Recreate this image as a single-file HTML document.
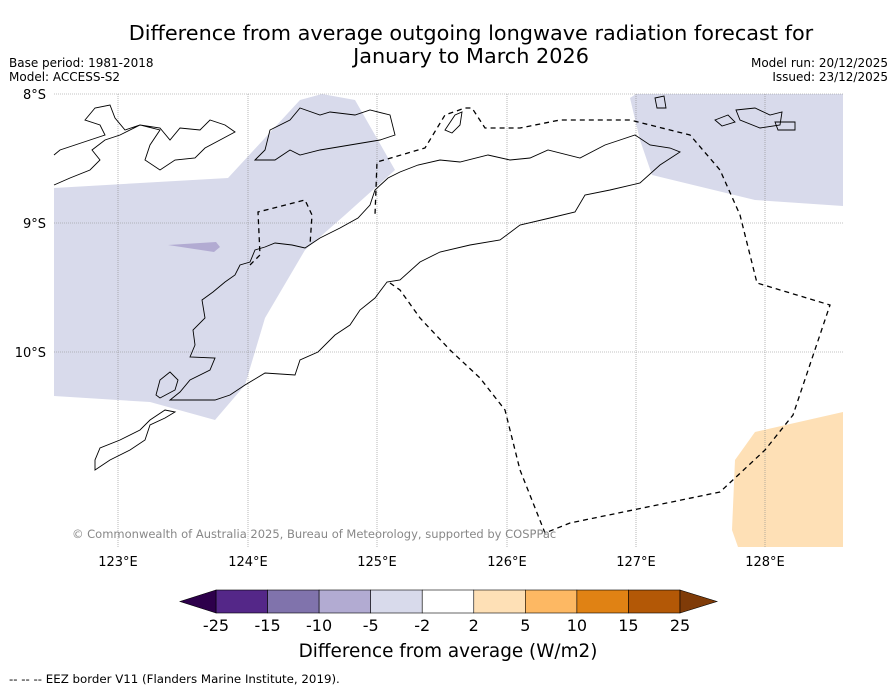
<!DOCTYPE html>
<html><head><meta charset="utf-8"><style>
body{margin:0;background:#fff;width:896px;height:690px;overflow:hidden;font-family:"Liberation Sans","DejaVu Sans",sans-serif}
</style></head><body>
<svg width="896" height="690" xmlns="http://www.w3.org/2000/svg" font-family="DejaVu Sans, Liberation Sans, sans-serif">
<text x="471" y="40" text-anchor="middle" font-size="20.8">Difference from average outgoing longwave radiation forecast for</text>
<text x="471" y="63" text-anchor="middle" font-size="20.8">January to March 2026</text>
<text x="9" y="67" font-size="12">Base period: 1981-2018</text>
<text x="9" y="81" font-size="12">Model: ACCESS-S2</text>
<text x="888" y="67" font-size="12" text-anchor="end">Model run: 20/12/2025</text>
<text x="888" y="81" font-size="12" text-anchor="end">Issued: 23/12/2025</text>
<g>
<polygon fill="#d8daeb" points="54,188 228,178 300,100 322,94 355,100 395,170 345,215 305,250 265,318 245,385 215,420 150,402 54,396"/>
<polygon fill="#b2abd2" points="168,245 216,242 220,247 214,252"/>
<polygon fill="#d8daeb" points="630,98 636,94 843,94 843,206 755,200 652,175 640,140"/>
<polygon fill="#fee0b6" points="735,460 755,432 843,412 843,547 738,547 732,530"/>
<g stroke="#888" stroke-width="0.6" stroke-dasharray="1,1">
<line x1="54" y1="94" x2="843" y2="94"/><line x1="54" y1="223" x2="843" y2="223"/><line x1="54" y1="352" x2="843" y2="352"/>
<line x1="118" y1="94" x2="118" y2="547"/><line x1="248" y1="94" x2="248" y2="547"/><line x1="377" y1="94" x2="377" y2="547"/><line x1="507" y1="94" x2="507" y2="547"/><line x1="636" y1="94" x2="636" y2="547"/><line x1="765" y1="94" x2="765" y2="547"/>
</g>
<g fill="none" stroke="#000" stroke-width="0.9">
<path d="M190,357 L195,345 L193,330 L205,318 L202,300 L213,292 L225,282 L235,275 L240,265 L250,262 L255,250 L265,247 L275,243 L292,245 L305,248 L320,238 L340,228 L358,218 L370,205 L375,190 L388,178 L400,172 L418,165 L440,160 L460,162 L488,155 L510,160 L530,158 L548,150 L580,158 L605,145 L620,140 L635,135 L650,145 L670,148 L680,152 L660,165 L640,183 L610,190 L585,195 L575,212 L550,218 L520,225 L500,240 L470,245 L440,252 L420,262 L400,280 L387,282 L375,298 L360,310 L350,325 L335,335 L318,352 L300,360 L295,375 L265,373 L245,385 L230,395 L215,400 L190,400 L170,400 L180,392 L190,380 L210,370 L215,358 Z"/>
<path d="M156,395 L160,380 L170,372 L178,380 L175,390 L160,398 Z"/>
<path d="M54,185 L70,178 L90,170 L100,160 L92,150 L105,140 L120,135 L140,125 L160,130 L150,145 L145,160 L160,170 L175,160 L195,158 L205,148 L220,140 L235,132 L225,125 L210,120 L200,130 L180,128 L170,140 L160,128 L140,125 L125,130 L115,118 L110,105 L95,108 L85,120 L100,125 L105,135 L90,140 L75,145 L60,150 L54,155"/>
<path d="M255,160 L265,150 L270,130 L290,120 L300,108 L320,115 L330,112 L355,115 L370,110 L390,115 L395,135 L380,140 L350,145 L320,150 L300,155 L290,150 L275,160 Z"/>
<path d="M95,470 L110,460 L130,450 L145,440 L150,425 L165,418 L175,412 L165,410 L150,420 L140,430 L120,440 L100,448 L95,460 Z"/>
<path d="M445,130 L455,115 L462,112 L460,125 L452,133 Z"/>
<path d="M736,110 L755,108 L770,115 L782,112 L780,125 L760,128 L740,120 Z"/>
<path d="M715,120 L728,115 L735,122 L722,126 Z"/><path d="M775,122 L795,122 L795,130 L778,130 Z"/><path d="M655,98 L664,96 L666,108 L657,108 Z"/>
</g>
<g fill="none" stroke="#000" stroke-width="1.3" stroke-dasharray="5,4">
<path d="M390,283 L400,290 L420,318 L450,350 L480,378 L505,410 L520,470 L545,533 L570,523 L720,492 L765,450 L793,415 L830,305 L757,283 L740,215 L720,170 L690,135 L630,120 L560,120 L520,128 L485,128 L472,108 L465,108 L445,115 L425,148 L377,162 L375,215"/>
<path d="M250,265 L260,255 L258,212 L305,200 L312,215 L310,245"/>
</g>
<text x="72" y="538" font-size="11.5" fill="#888">© Commonwealth of Australia 2025, Bureau of Meteorology, supported by COSPPac</text>
</g>
<g font-size="13">
<text x="118" y="566" text-anchor="middle">123°E</text><text x="248" y="566" text-anchor="middle">124°E</text><text x="377" y="566" text-anchor="middle">125°E</text><text x="507" y="566" text-anchor="middle">126°E</text><text x="636" y="566" text-anchor="middle">127°E</text><text x="765" y="566" text-anchor="middle">128°E</text>
<text x="46" y="99" text-anchor="end">8°S</text><text x="46" y="228" text-anchor="end">9°S</text><text x="46" y="357" text-anchor="end">10°S</text>
</g>
<g id="cbar"></g>
<text x="448" y="657" text-anchor="middle" font-size="18.4">Difference from average (W/m2)</text>
<text x="9" y="683" font-size="11.8">--  --  -- EEZ border V11 (Flanders Marine Institute, 2019).</text>
</svg>
<script>
const tickLabels=["-25","-15","-10","-5","-2","2","5","10","15","25"];
const binColors=["#542788","#8073ac","#b2abd2","#d8daeb","#ffffff","#fee0b6","#fdb863","#e08214","#b35806"];
const g=document.getElementById('cbar');const ns="http://www.w3.org/2000/svg";
const x0=216,x1=680,y=590,h=23,w=(x1-x0)/binColors.length;
binColors.forEach((c,i)=>{const r=document.createElementNS(ns,'rect');r.setAttribute('x',x0+i*w);r.setAttribute('y',y);r.setAttribute('width',w);r.setAttribute('height',h);r.setAttribute('fill',c);r.setAttribute('stroke','#000');r.setAttribute('stroke-width','0.6');


g.appendChild(r);});
[["#2d004b",`${x0},${y} ${x0},${y+h} 180,${y+h/2}`],["#7f3b08",`${x1},${y} ${x1},${y+h} 717,${y+h/2}`]].forEach(([c,p])=>{const t=document.createElementNS(ns,'polygon');t.setAttribute('points',p);t.setAttribute('fill',c);t.setAttribute('stroke','#000');t.setAttribute('stroke-width','0.6');


g.appendChild(t);});
tickLabels.forEach((l,i)=>{const t=document.createElementNS(ns,'text');t.setAttribute('x',x0+i*w);t.setAttribute('y',631);t.setAttribute('text-anchor','middle');t.setAttribute('font-size','16');t.textContent=l;


g.appendChild(t);});
</script>
</body></html>
